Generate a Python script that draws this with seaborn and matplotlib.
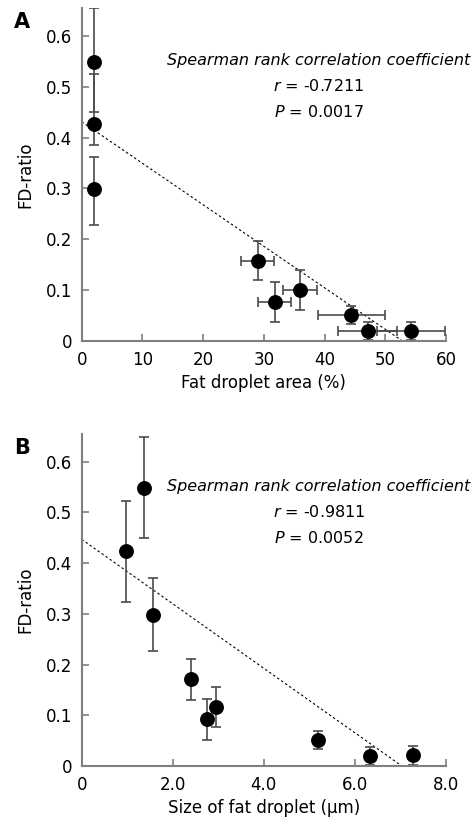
import seaborn as sns
import matplotlib.pyplot as plt
import pandas as pd

# Panel A: fat droplet area vs FD-ratio
area_pct = [2.0, 2.0, 2.0, 29.0, 31.8, 35.9, 44.4, 47.1, 54.3]
area_err = [0, 0, 0, 2.7, 2.7, 2.8, 5.5, 4.9, 5.6]
fd_ratio_a = [0.548, 0.426, 0.299, 0.158, 0.077, 0.100, 0.051, 0.020, 0.020]
fd_err_a_lo = [0.097, 0.041, 0.072, 0.039, 0.039, 0.039, 0.018, 0.018, 0.018]
fd_err_a_hi = [0.106, 0.099, 0.063, 0.039, 0.039, 0.039, 0.018, 0.018, 0.018]
trend_a_x = [0, 52.8]
trend_a_y = [0.431, 0]

# Panel B: fat droplet size vs FD-ratio
size_um = [0.97, 1.37, 1.56, 2.39, 2.76, 2.96, 5.20, 6.32, 7.28]
fd_ratio_b = [0.423, 0.549, 0.298, 0.171, 0.092, 0.116, 0.052, 0.020, 0.021]
fd_err_b = [0.100, 0.100, 0.072, 0.040, 0.040, 0.040, 0.018, 0.018, 0.018]
trend_b_x = [0, 7.03]
trend_b_y = [0.447, 0]

y_ticks = [0, 0.1, 0.2, 0.3, 0.4, 0.5, 0.6]
y_labels = ["0", "0.1", "0.2", "0.3", "0.4", "0.5", "0.6"]
x_ticks_a = [0, 10, 20, 30, 40, 50, 60]
x_labels_a = ["0", "10", "20", "30", "40", "50", "60"]
x_ticks_b = [0, 2, 4, 6, 8]
x_labels_b = ["0", "2.0", "4.0", "6.0", "8.0"]

sns.set_style("ticks")
plt.rcParams['font.family'] = ['DejaVu Sans']
plt.rcParams['text.color'] = 'black'
plt.rcParams['axes.labelcolor'] = 'black'
plt.rcParams['xtick.labelcolor'] = 'black'
plt.rcParams['ytick.labelcolor'] = 'black'

fig = plt.figure(figsize=(4.76, 8.22), dpi=100)
ax_a = fig.add_axes([0.1716, 0.5852, 0.7654, 0.4047])
ax_b = fig.add_axes([0.1716, 0.0681, 0.7654, 0.4035])

spine_col = "#7f7f7f"
err_col = "#4a4a4a"


def panel(ax, x, y, yerr, xerr, tx, ty, xlim, xt, xl, xlabel, letter, r_txt, p_txt, tx_center):
    # linea de tendencia punteada
    ax.plot(tx, ty, color="black", lw=0.8, ls=(0, (2.2, 2.2)), zorder=1)
    ax.errorbar(x, y, yerr=yerr, xerr=xerr, fmt="none", ecolor=err_col,
                elinewidth=1.2, capsize=3.5, capthick=1.2, zorder=2)
    df = pd.DataFrame({"x": x, "y": y})
    sns.scatterplot(data=df, x="x", y="y", ax=ax, color="black", s=115,
                    edgecolor="black", linewidth=0, zorder=3)
    ax.set_xlim(*xlim)
    ax.set_ylim(0, 0.654)
    ax.set_yticks(y_ticks)
    ax.set_yticklabels(y_labels)
    ax.set_xticks(xt)
    ax.set_xticklabels(xl)
    for s in ["top", "right"]:
        ax.spines[s].set_visible(False)
    for s in ["left", "bottom"]:
        ax.spines[s].set_color(spine_col)
        ax.spines[s].set_linewidth(1.5)
    ax.tick_params(direction="in", length=5, width=1.2, color=spine_col,
                   labelsize=12, pad=7)
    ax.set_xlabel(xlabel, fontsize=12, labelpad=4)
    ax.set_ylabel("FD-ratio", fontsize=12, labelpad=8)
    ax.text(tx_center, 0.552, "Spearman rank correlation coefficient",
            style="italic", fontsize=11.5, ha="center", va="center")
    ax.text(tx_center, 0.501, r_txt, fontsize=11.5, ha="center", va="center")
    ax.text(tx_center, 0.450, p_txt, fontsize=11.5, ha="center", va="center")
    ax.text(-0.185, 0.99, letter, transform=ax.transAxes, fontsize=15,
            fontweight="bold", ha="left", va="top")


panel(ax_a, area_pct, fd_ratio_a, [fd_err_a_lo, fd_err_a_hi], area_err,
      trend_a_x, trend_a_y, (0, 60), x_ticks_a, x_labels_a,
      "Fat droplet area (%)", "A", "$r$ = -0.7211", "$P$ = 0.0017", 39.1)
panel(ax_b, size_um, fd_ratio_b, fd_err_b, None,
      trend_b_x, trend_b_y, (0, 8), x_ticks_b, x_labels_b,
      "Size of fat droplet (\u03bcm)", "B", "$r$ = -0.9811", "$P$ = 0.0052", 5.21)

fig.savefig("out.png", dpi=100)
